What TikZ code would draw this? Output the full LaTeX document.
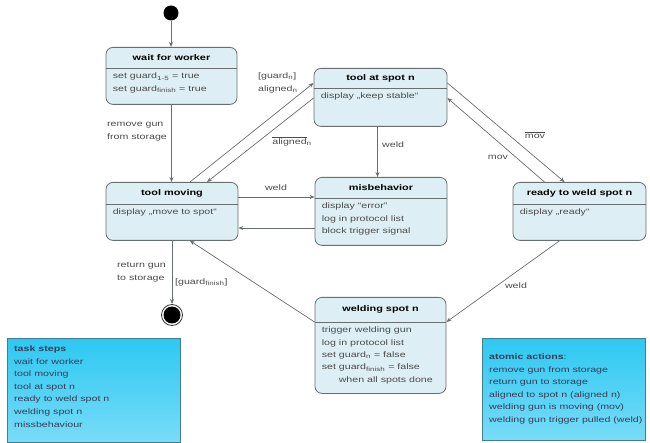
\documentclass[tikz,border=0pt]{standalone}
\usepackage{fontspec}
\setmainfont{Liberation Sans}[FakeStretch=1.33]
\usetikzlibrary{arrows.meta,calc}
\definecolor{sfill}{RGB}{221,239,244}
\definecolor{sline}{RGB}{105,110,112}
\definecolor{txt}{RGB}{75,75,75}
\definecolor{ntop}{RGB}{45,200,242}
\definecolor{nbot}{RGB}{120,220,248}
\definecolor{nline}{RGB}{70,125,140}
\definecolor{ntxt}{RGB}{55,60,85}
\tikzset{
 sbox/.style={draw=sline, fill=sfill, rounded corners=7pt, line width=0.8pt, inner sep=0},
 divl/.style={draw=sline, line width=0.8pt},
 stitle/.style={font=\fontsize{8.2}{10}\selectfont\bfseries, text=black, inner sep=0},
 sbody/.style={font=\fontsize{8}{12.3}\selectfont, text=txt, align=left, inner sep=0, anchor=north west},
 conn/.style={draw=sline, line width=0.7pt, -{Stealth[length=5pt,width=4pt]}},
 lbl/.style={font=\fontsize{8}{12.5}\selectfont, text=txt, align=left, inner sep=0},
 note/.style={draw=nline, line width=0.8pt, top color=ntop, bottom color=nbot, inner sep=0},
 notetxt/.style={font=\fontsize{8}{12.6}\selectfont, text=ntxt, align=left, inner sep=0, anchor=north west},
}
\newcommand\mystate[8]{%
 \node[sbox, minimum width=#4pt, minimum height=#5pt, anchor=north] (#1) at (#2,#3) {};
 \draw[divl] ([yshift=-#6pt]#1.north west) -- ([yshift=-#6pt]#1.north east);
 \node[stitle] (#1-t) at ([yshift=-#6pt*0.5]#1.north) {#7};
 \node[sbody] (#1-b) at ([xshift=7pt,yshift=-#6pt-5pt]#1.north west) {#8};
}
\begin{document}
\begin{tikzpicture}[x=1pt,y=-1pt]
\useasboundingbox (0,0) rectangle (650,443);
% states
\mystate{ww}{171.5}{47}{131}{57}{21}{wait for worker}{set guard\textsubscript{1-5} = true\\set guard\textsubscript{finish} = true}
\mystate{tas}{380.5}{68}{133}{58}{20}{tool at spot n}{display „keep stable“}
\mystate{tm}{172}{182}{132}{58}{22}{tool moving}{display „move to spot“}
\mystate{mis}{381}{177}{132}{68}{21}{misbehavior}{display “error”\\log in protocol list\\block trigger signal}
\mystate{rdy}{579.5}{182}{133}{58}{22}{ready to weld spot n}{display „ready“}
\mystate{wel}{380.5}{297}{131}{96}{25}{welding spot n}{trigger welding gun\\log in protocol list\\set guard\textsubscript{n} = false\\set guard\textsubscript{finish} = false\\\hspace*{17pt}when all spots done}
% initial and final
\node[circle, fill=black, minimum size=15pt, inner sep=0] (init) at (171,13) {};
\node[circle, draw=black!80, line width=0.8pt, minimum size=21pt, inner sep=0] (fin) at (172,315) {};
\node[circle, fill=black, minimum size=17pt, inner sep=0] (finin) at (fin.center) {};
% connectors
\draw[conn] (init.south) -- (init.south |- ww.north);
\draw[conn] (ww.south) -- (ww.south |- tm.north);
\node[lbl, anchor=west] (l1) at (107,131.5) {remove gun\\from storage};
\draw[conn] ([xshift=18pt]tm.north) -- ([yshift=-15pt]tas.north west);
\draw[conn] ([yshift=-30pt]tas.north west) -- ([xshift=35pt]tm.north);
\node[lbl, anchor=west] (l2) at (258,83) {[guard\textsubscript{n}]\\aligned\textsubscript{n}};
\node[lbl] (l3) at (292,141) {$\overline{\mbox{aligned}}$\textsubscript{n}};
\draw[conn] ([xshift=-3pt]tas.south) -- ([xshift=-3pt]tas.south |- mis.north);
\node[lbl, anchor=west] (l4) at (382,145) {weld};
\draw[conn] ([yshift=-15pt]tm.north east) -- ([yshift=-15pt]tm.north east -| mis.west);
\node[lbl] (l5) at (276,188) {weld};
\draw[conn] ([yshift=-51pt]mis.north west) -- ([yshift=-51pt]mis.north west -| tm.east);
\draw[conn] ([yshift=-15pt]tas.north east) -- ([xshift=-15pt]rdy.north);
\node[lbl] (l6) at (535,135) {$\overline{\mbox{mov}}$};
\draw[conn] ([xshift=-35pt]rdy.north) -- ([yshift=-30pt]tas.north east);
\node[lbl] (l7) at (498,157) {mov};
\draw[conn] ([xshift=-20pt]rdy.south) -- ([yshift=-25pt]wel.north east);
\node[lbl] (l8) at (516,286) {weld};
\draw[conn] ([yshift=-25pt]wel.north west) -- ([xshift=18pt]tm.south);
\draw[conn] (tm.south) -- (fin.north);
\node[lbl, anchor=west] (l9) at (117,272) {return gun\\to storage};
\node[lbl, anchor=west] (l10) at (175,282) {[guard\textsubscript{finish}]};
% notes
\node[note, minimum width=173pt, minimum height=104pt, anchor=north west] (ts) at (7,338) {};
\node[notetxt] (ts-t) at (14,345.5) {\textbf{task steps}\\wait for worker\\tool moving\\tool at spot n\\ready to weld spot n\\welding spot n\\missbehaviour};
\node[note, minimum width=163pt, minimum height=102pt, anchor=north west] (aa) at (482,338) {};
\node[notetxt] (aa-t) at (489,353.5) {\textbf{atomic actions}:\\remove gun from storage\\return gun to storage\\aligned to spot n (aligned n)\\welding gun is moving (mov)\\welding gun trigger pulled (weld)};
\end{tikzpicture}
\end{document}
